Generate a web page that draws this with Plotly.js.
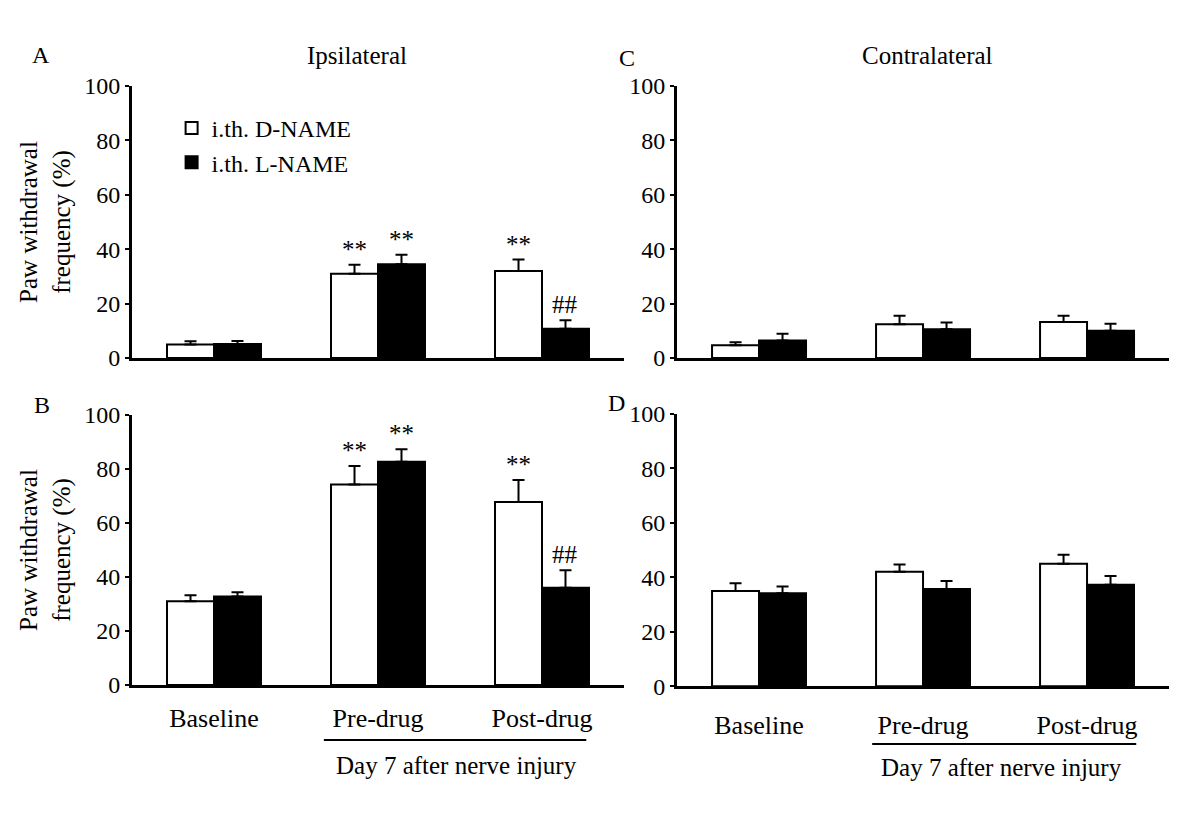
<!DOCTYPE html>
<html>
<head>
<meta charset="utf-8">
<script src="https://cdn.plot.ly/plotly-3.0.1.min.js"></script>
<style>
  html, body { margin: 0; padding: 0; background: #fff; }
  #chart { width: 1200px; height: 815px; }
</style>
</head>
<body>
<div id="chart"></div>
<script>
// time points (shared by all four panels)
const categories = ['Baseline', 'Pre-drug', 'Post-drug'];
const seriesNames = ['i.th. D-NAME', 'i.th. L-NAME'];

// A: ipsilateral, top row
const ipsiTopD = [5.0, 31.0, 32.0];
const ipsiTopDErr = [1.2, 3.3, 4.2];
const ipsiTopL = [5.2, 34.5, 10.8];
const ipsiTopLErr = [1.1, 3.5, 3.1];

// B: ipsilateral, bottom row
const ipsiBotD = [31.0, 74.3, 67.8];
const ipsiBotDErr = [2.2, 6.8, 8.1];
const ipsiBotL = [32.8, 82.7, 36.0];
const ipsiBotLErr = [1.6, 4.6, 6.5];

// C: contralateral, top row
const contraTopD = [4.7, 12.4, 13.2];
const contraTopDErr = [1.1, 3.1, 2.3];
const contraTopL = [6.4, 10.6, 10.0];
const contraTopLErr = [2.5, 2.5, 2.6];

// D: contralateral, bottom row
const contraBotD = [35.0, 42.1, 45.0];
const contraBotDErr = [2.8, 2.6, 3.3];
const contraBotL = [34.2, 35.7, 37.3];
const contraBotLErr = [2.4, 3.0, 3.2];

// significance marks above each bar
const ipsiMarksD = ['', '**', '**'];
const ipsiMarksL = ['', '**', '##'];

const FONT = 'Liberation Serif, Times New Roman, serif';
const BARGAP = 0.427;

const panels = [
  { ax: '', d: ipsiTopD, dErr: ipsiTopDErr, l: ipsiTopL, lErr: ipsiTopLErr, marksD: ipsiMarksD, marksL: ipsiMarksL, legend: true },
  { ax: '2', d: ipsiBotD, dErr: ipsiBotDErr, l: ipsiBotL, lErr: ipsiBotLErr, marksD: ipsiMarksD, marksL: ipsiMarksL },
  { ax: '3', d: contraTopD, dErr: contraTopDErr, l: contraTopL, lErr: contraTopLErr },
  { ax: '4', d: contraBotD, dErr: contraBotDErr, l: contraBotL, lErr: contraBotLErr }
];

const traces = [];
const annotations = [];

panels.forEach(p => {
  const zeros = categories.map(() => 0);
  [[p.d, p.dErr, '#ffffff', seriesNames[0], p.marksD, -1],
   [p.l, p.lErr, '#000000', seriesNames[1], p.marksL, 1]].forEach(([vals, errs, fill, name, marks, side]) => {
    traces.push({
      type: 'bar',
      x: categories,
      y: vals,
      name: name,
      xaxis: 'x' + p.ax,
      yaxis: 'y' + p.ax,
      marker: { color: fill, line: { color: '#000', width: 2 } },
      error_y: { type: 'data', symmetric: false, array: errs, arrayminus: zeros, color: '#000', thickness: 2, width: 6 },
      showlegend: !!p.legend,
      hoverinfo: 'skip'
    });
    if (marks) {
      marks.forEach((m, i) => {
        if (!m) return;
        annotations.push({
          xref: 'x' + p.ax, yref: 'y' + p.ax,
          x: i + side * (1 - BARGAP) / 4,
          y: vals[i] + errs[i],
          xanchor: 'center', yanchor: 'bottom', yshift: 0,
          text: m, showarrow: false,
          font: { family: FONT, size: 25, color: '#000' }
        });
      });
    }
  });
});

function txt(text, x, y, size, extra) {
  return Object.assign({ xref: 'paper', yref: 'paper', x: x, y: y, text: text, showarrow: false,
    xanchor: 'center', yanchor: 'middle',
    font: { family: FONT, size: size, color: '#000' } }, extra || {});
}

annotations.push(txt('Ipsilateral', 0.2975, 0.9325, 25));
annotations.push(txt('Contralateral', 0.7733, 0.9325, 25));
annotations.push(txt('A', 0.0342, 0.9325, 24));
annotations.push(txt('B', 0.035, 0.503, 24));
annotations.push(txt('C', 0.5225, 0.929, 24));
annotations.push(txt('D', 0.5135, 0.5055, 24));
annotations.push(txt('Day 7 after nerve injury', 1.48, 0.0613, 25, { xref: 'x2' }));
annotations.push(txt('Day 7 after nerve injury', 1.48, 0.0577, 25, { xref: 'x4' }));

const shapes = [
  { type: 'line', xref: 'x2', yref: 'paper', x0: 0.67, x1: 2.27, y0: 0.092, y1: 0.092, line: { color: '#000', width: 2 } },
  { type: 'line', xref: 'x4', yref: 'paper', x0: 0.69, x1: 2.30, y0: 0.087, y1: 0.087, line: { color: '#000', width: 2 } }
];

function xAxis(domain, anchor, labels, standoff) {
  return {
    domain: domain, anchor: anchor, range: [-0.5, 2.5], type: 'category',
    showline: true, linecolor: '#000', linewidth: 3, ticks: '',
    showticklabels: labels, ticklabelstandoff: standoff || 10,
    tickfont: { family: FONT, size: 26, color: '#000' },
    showgrid: false, zeroline: false, fixedrange: true
  };
}
function yAxis(domain, anchor, title) {
  const a = {
    domain: domain, anchor: anchor, range: [0, 100], dtick: 20,
    showline: true, linecolor: '#000', linewidth: 3,
    ticks: 'outside', ticklen: 4, tickwidth: 2, tickcolor: '#000',
    tickfont: { family: FONT, size: 24, color: '#000' },
    showgrid: false, zeroline: false, fixedrange: true
  };
  if (title) a.title = { text: 'Paw withdrawal<br>frequency (%)', font: { family: FONT, size: 25, color: '#000' }, standoff: 7 };
  return a;
}

const layout = {
  width: 1200, height: 815,
  margin: { l: 0, r: 0, t: 0, b: 0 },
  paper_bgcolor: '#fff', plot_bgcolor: '#fff',
  barmode: 'group', bargap: BARGAP, bargroupgap: 0,
  font: { family: FONT, color: '#000' },
  xaxis: xAxis([0.11, 0.52], 'y', false),
  yaxis: yAxis([0.5607, 0.8945], 'x', true),
  xaxis2: xAxis([0.11, 0.52], 'y2', true, 8),
  yaxis2: yAxis([0.1595, 0.4908], 'x2', true),
  xaxis3: xAxis([0.5642, 0.9742], 'y3', false),
  yaxis3: yAxis([0.5607, 0.8945], 'x3', false),
  xaxis4: xAxis([0.5642, 0.9742], 'y4', true, 14),
  yaxis4: yAxis([0.158, 0.492], 'x4', false),
  legend: { x: 0.143, y: 0.87, xanchor: 'left', yanchor: 'top', bgcolor: 'rgba(0,0,0,0)',
    font: { family: FONT, size: 24, color: '#000' }, traceorder: 'normal', tracegroupgap: 0 },
  annotations: annotations,
  shapes: shapes
};

Plotly.newPlot('chart', traces, layout, { staticPlot: true });
</script>
</body>
</html>
